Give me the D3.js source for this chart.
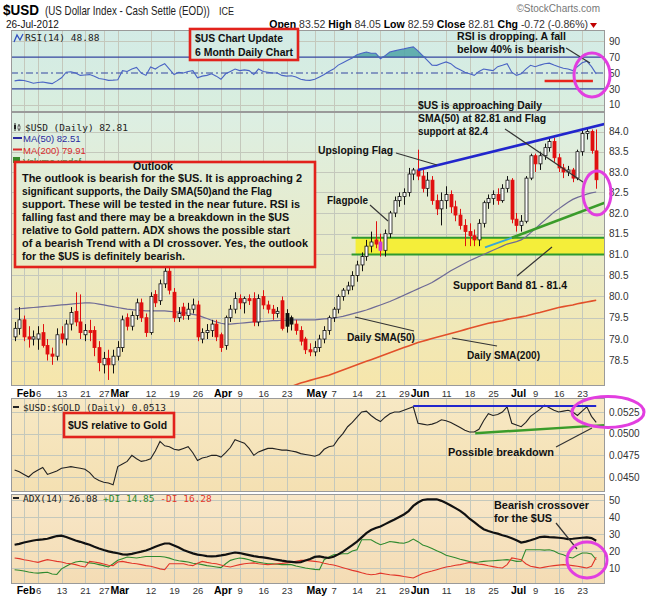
<!DOCTYPE html>
<html>
<head>
<meta charset="utf-8">
<script src="https://cdn.jsdelivr.net/npm/d3@7"></script>
<style>
  body { margin: 0; background: #fff; }
  svg { display: block; font-family: "Liberation Sans", Arial, sans-serif; }
  .mono { font-family: "DejaVu Sans Mono", monospace; font-size: 9.5px; }
  .ax text { font-size: 10px; fill: #333; font-family: "Liberation Sans", Arial, sans-serif; }
  .note { font-weight: bold; font-size: 10.5px; fill: #111; }
</style>
</head>
<body>
<svg id="chart" width="648" height="601"></svg>
<script>
// ---- data (30-Jan-2012 .. 26-Jul-2012) ----
var holidays = ["2012-02-20", "2012-04-06", "2012-05-28", "2012-07-04"];

var opens = [79.05,79.25,79.45,79.05,79.00,79.00,79.15,78.85,78.65,78.60,
  79.12,79.00,79.35,79.65,79.40,79.10,79.20,79.20,78.80,78.40,
  78.55,78.40,78.60,78.80,79.50,79.30,79.55,79.85,79.50,79.15,
  80.05,79.90,80.30,80.60,80.10,79.50,79.75,79.55,79.70,79.80,
  79.00,79.15,79.20,79.35,79.10,78.85,79.50,79.70,79.95,79.85,
  79.95,79.95,79.40,80.00,79.80,79.70,79.60,79.90,79.60,79.50,
  79.35,79.20,79.00,78.75,78.70,78.80,79.00,79.20,79.50,79.70,
  80.00,80.15,80.25,80.50,80.75,80.95,81.20,81.35,81.30,81.10,
  81.50,82.00,82.30,82.40,82.50,82.95,83.05,82.90,82.60,82.80,
  82.30,82.10,82.30,82.45,82.15,81.95,81.70,81.55,81.45,81.35,
  81.75,82.25,82.35,82.45,82.30,82.60,82.80,81.85,81.70,81.80,
  82.85,83.40,83.20,83.40,83.60,83.75,83.35,83.10,83.00,83.05,
  82.85,83.50,83.95,84.00,83.52];
var highs = [79.40,79.75,79.55,79.30,79.20,79.30,79.35,79.00,78.80,79.25,
  79.30,79.45,79.75,80.10,80.05,79.35,79.45,79.30,78.95,78.70,
  78.75,78.75,78.95,79.55,79.60,79.65,79.95,79.95,79.60,80.10,
  80.15,80.40,80.75,80.70,80.20,79.75,79.85,79.85,79.95,79.90,
  79.25,79.35,79.45,79.45,79.15,79.55,79.80,80.10,80.05,80.00,
  80.05,80.10,80.05,80.15,79.90,79.80,79.75,80.00,79.70,79.55,
  79.45,79.30,79.05,78.90,78.95,79.10,79.30,79.55,79.75,80.05,
  80.20,80.35,80.60,80.85,81.05,81.35,81.55,81.80,81.50,81.60,
  82.05,82.40,82.50,82.60,83.10,83.10,83.55,83.05,83.00,82.90,
  82.45,82.50,82.65,82.55,82.30,82.10,81.85,81.75,81.60,81.85,
  82.30,82.45,82.55,82.60,82.70,82.90,82.85,82.00,81.95,82.90,
  83.45,83.45,83.50,83.70,83.85,83.85,83.45,83.20,83.15,83.10,
  83.55,84.05,84.10,84.05,84.05];
var lows = [78.95,79.10,78.95,78.80,78.85,78.75,78.80,78.50,78.40,78.50,
  78.90,78.85,79.20,79.30,79.00,78.95,78.95,78.60,78.25,78.20,
  78.05,78.20,78.50,78.70,79.20,79.20,79.45,79.40,79.05,79.10,
  79.75,79.80,80.20,80.05,79.40,79.40,79.45,79.45,79.60,78.95,
  78.90,79.00,79.05,78.95,78.70,78.75,79.40,79.60,79.70,79.60,
  79.80,79.30,79.30,79.70,79.60,79.45,79.50,79.20,79.15,79.20,
  79.10,78.85,78.65,78.60,78.60,78.70,78.90,79.10,79.40,79.60,
  79.90,80.05,80.15,80.35,80.60,80.85,81.05,81.15,80.95,80.95,
  81.40,81.90,82.15,82.20,82.40,82.80,82.80,82.50,82.40,82.20,
  81.95,81.70,82.10,82.00,81.80,81.60,81.20,81.20,81.20,81.20,
  81.65,82.10,82.20,82.20,82.25,82.50,81.75,81.55,81.55,81.75,
  82.80,83.00,83.05,83.30,83.50,83.25,83.00,82.85,82.90,82.75,
  82.80,83.40,83.80,83.45,82.59];
var closes = [79.25,79.45,79.05,79.00,79.05,79.12,78.85,78.65,78.60,79.10,
  79.00,79.35,79.62,79.40,79.15,79.20,79.15,78.80,78.45,78.55,
  78.40,78.60,78.80,79.45,79.30,79.55,79.85,79.50,79.15,80.00,
  79.85,80.30,80.60,80.15,79.50,79.60,79.55,79.70,79.80,79.05,
  79.15,79.20,79.35,79.05,78.80,79.50,79.70,79.95,79.85,79.95,
  79.90,79.40,79.95,79.80,79.70,79.60,79.65,79.25,79.30,79.35,
  79.20,78.95,78.75,78.70,78.80,79.00,79.20,79.50,79.70,80.00,
  80.15,80.25,80.50,80.75,80.95,81.20,81.30,81.25,81.10,81.50,
  82.00,82.30,82.40,82.50,82.95,83.05,82.90,82.60,82.80,82.30,
  82.10,82.30,82.45,82.15,81.95,81.70,81.55,81.45,81.35,81.75,
  82.25,82.35,82.45,82.30,82.60,82.80,81.85,81.70,81.80,82.85,
  83.40,83.20,83.40,83.60,83.75,83.35,83.10,83.00,83.05,82.85,
  83.50,83.95,84.00,83.53,82.81];

var ma50 = [79.70,79.71,79.72,79.73,79.74,79.75,79.76,79.77,79.78,79.79,
  79.80,79.81,79.82,79.83,79.84,79.85,79.85,79.84,79.82,79.80,
  79.78,79.76,79.74,79.72,79.70,79.69,79.68,79.67,79.66,79.66,
  79.66,79.66,79.66,79.65,79.64,79.63,79.62,79.60,79.58,79.56,
  79.52,79.48,79.44,79.40,79.37,79.35,79.35,79.36,79.37,79.38,
  79.39,79.40,79.40,79.41,79.42,79.43,79.43,79.44,79.44,79.45,
  79.45,79.45,79.45,79.45,79.45,79.46,79.47,79.48,79.49,79.51,
  79.53,79.56,79.59,79.62,79.65,79.68,79.72,79.76,79.80,79.84,
  79.88,79.93,79.98,80.03,80.08,80.13,80.18,80.23,80.28,80.33,
  80.40,80.47,80.54,80.61,80.67,80.73,80.79,80.85,80.90,80.95,
  81.00,81.05,81.10,81.15,81.20,81.25,81.28,81.31,81.35,81.42,
  81.52,81.62,81.72,81.82,81.92,82.02,82.10,82.18,82.26,82.33,
  82.38,82.42,82.46,82.49,82.51];

// MA(200) sits below the panel until late April, so it starts at day 58
var ma200Start = 58;
var ma200 = [77.86,77.90,77.94,77.98,78.01,78.04,78.07,78.10,78.13,78.16,
  78.20,78.24,78.28,78.32,78.36,78.40,78.44,78.48,78.52,78.56,
  78.60,78.64,78.68,78.72,78.76,78.80,78.84,78.88,78.92,78.95,
  78.98,79.01,79.04,79.07,79.10,79.13,79.16,79.19,79.22,79.25,
  79.28,79.31,79.34,79.37,79.39,79.41,79.43,79.46,79.48,79.50,
  79.52,79.54,79.57,79.60,79.62,79.65,79.68,79.71,79.74,79.76,
  79.78,79.80,79.83,79.85,79.87,79.89,79.91];

var rsi = [40,41,40.5,39,37,38,38.6,37.5,36.5,40,
  44,51,51.5,50,47,47.5,48,46,43,42,
  40.7,41,41.5,53,52,55,57,50,47,57.6,
  55,59,61.8,55,48,51,50,52,53,44,
  46,47,49,46,42,49,52,55,53,54,
  53,48,55,52,51,50,50,47,46,46.5,
  45,42,41,40.7,42,45,48,52,55,60,
  63,66,69,73,75,76.6,75,75,68,72,
  76.6,78,79.5,80.5,82,83,78,72,66,60,
  59.7,62,64,61.8,57,54,51,49,47,52,
  55,54,53,58,59.7,61.8,51,47,49,55,
  59.7,58,60,61.8,62.5,60,58,56,55,53,
  58,63,65,58,48.88];

var usdGold = [0.0458,0.0456,0.0453,0.0450,0.0455,0.0458,0.0461,0.0453,0.0455,0.0457,
  0.0460,0.0461,0.0462,0.0461,0.0460,0.0459,0.0455,0.0449,0.0446,0.0444,
  0.0443,0.0441,0.0462,0.0465,0.0468,0.0475,0.0471,0.0468,0.0469,0.0471,
  0.0480,0.0491,0.0486,0.0485,0.0482,0.0481,0.0483,0.0485,0.0478,0.0469,
  0.0472,0.0473,0.0475,0.0475,0.0473,0.0478,0.0484,0.0493,0.0491,0.0489,
  0.0483,0.0475,0.0479,0.0481,0.0483,0.0483,0.0482,0.0481,0.0481,0.0480,
  0.0479,0.0477,0.0476,0.0475,0.0474,0.0476,0.0482,0.0485,0.0486,0.0494,
  0.0500,0.0508,0.0513,0.0519,0.0525,0.0526,0.0521,0.0517,0.0514,0.0519,
  0.0523,0.0525,0.0525,0.0527,0.0529,0.0531,0.0512,0.0511,0.0510,0.0511,
  0.0513,0.0516,0.0515,0.0513,0.0510,0.0507,0.0504,0.0502,0.0502,0.0505,
  0.0515,0.0523,0.0521,0.0522,0.0525,0.0531,0.0512,0.0510,0.0508,0.0513,
  0.0520,0.0524,0.0528,0.0533,0.0530,0.0527,0.0525,0.0526,0.0527,0.0525,
  0.0521,0.0526,0.0531,0.0520,0.0513];

var adx = [23.7,24.2,25,25.6,26.2,26.6,26.8,27.2,28,28.8,
  29,28.2,27.2,26.2,25.4,24.5,23.7,22.5,21.5,20.6,
  19.8,19.2,18.7,18,17.9,18.3,19,19.6,20.3,21.3,
  22.5,23.5,24.4,24.4,23.2,22,20.6,19.6,18.6,17.9,
  17.5,17,16.8,17,17.4,17.9,18.5,19.1,18.8,18.2,
  17.6,17,16.5,16.2,15.8,15.3,14.8,14.3,13.9,13.6,
  13.3,13.5,14.4,15.3,16.5,16.8,16.3,15.9,16.6,18,
  19.6,21.5,23.5,25.5,28,30.5,32.3,33.5,34.4,35.8,
  37.2,38.5,40,41.5,43.5,46.5,48.5,50,50.4,50.4,
  50.4,49.5,48.2,46.8,45.2,43.6,41.5,39,37,34.8,
  32.8,31.8,30.9,30.2,29.3,28.5,27.5,26.3,25,25.5,
  26.3,27.2,28.2,28.5,28.2,28,27.8,27.5,27,27.2,
  27.5,27.8,28,27.6,26.08];
var plusDI = [9,8.7,8.2,7.6,7.2,7,7.3,7.5,6.5,6.2,
  9.5,11,12.5,13.5,14,13.5,13,12.6,12,11.4,
  10.6,12.5,14.5,15.5,16.5,16.2,15.9,16.3,16.8,16.8,
  16.8,16.8,16.5,15.8,14.9,14.3,13.9,13.5,12.8,12.5,
  12,11.4,11,10.6,10.2,12.5,14.5,15.3,15.9,15.5,
  14.8,13.9,13.4,12.9,12.5,12.4,12.2,12,12,12,
  11.2,10.6,10,9.6,9.2,9,14.9,16.5,17.8,18.1,
  18.4,18.4,20,20.7,26.6,26.6,26.6,25,23.7,24.5,
  25.6,25.2,24.8,24.6,25.5,27,25.5,23.5,22.7,21.5,
  20.2,19,17.5,16.8,16,15.1,14.5,13.8,13.3,13.5,
  13.9,14.1,14.3,14.5,14.7,14.9,14.6,13.9,14,20.7,
  20.7,20.7,20.7,20.5,20.7,20,18.5,17.8,16.5,15.9,
  17.5,18.8,18.8,18.3,14.85];
var minusDI = [15.9,15.5,14.9,14.4,13.8,13.3,14.2,14.9,14.4,13.9,
  13.5,12.8,12.5,12,11.2,10.6,13.9,13.5,13,12.3,
  11.6,11.4,13.5,13.9,13.3,12.8,12.5,12,11.4,11,
  10.3,9.5,9,12.5,12.5,12.5,12.5,11.8,11.4,12.8,
  13.9,13.3,12.8,12.5,11.8,11,10.6,11.3,12,12.5,
  12.8,13,12.5,12.2,12,12.2,12.5,12.7,13,13.3,
  14,14.5,14.5,14.2,13.9,13.5,12.8,12.2,11.8,11,
  10.2,9.4,8.6,8,7.2,6.5,6,6.3,7,6.5,
  6,5.8,5.5,5,4.6,4.1,5.5,6.8,7.5,8.2,
  9,9.8,10.6,11,11.6,12,12.6,13.3,12.8,12.3,
  12,11.3,10.8,10.3,10,12,15.9,15.4,14.9,12.5,
  11,10.5,10,10.5,11,11.4,11.7,12,11.8,11.4,
  11,10.5,10,11,16.28];

var dateTicks = [
  ["2012-02-01", "Feb"], ["2012-02-06", "6"], ["2012-02-13", "13"], ["2012-02-21", "21"],
  ["2012-02-27", "27"], ["2012-03-01", "Mar"], ["2012-03-12", "12"], ["2012-03-19", "19"],
  ["2012-03-26", "26"], ["2012-04-02", "Apr"], ["2012-04-09", "9"], ["2012-04-16", "16"],
  ["2012-04-23", "23"], ["2012-05-01", "May"], ["2012-05-07", "7"], ["2012-05-14", "14"],
  ["2012-05-21", "21"], ["2012-05-29", "29"], ["2012-06-01", "Jun"], ["2012-06-11", "11"],
  ["2012-06-18", "18"], ["2012-06-25", "25"], ["2012-07-02", "Jul"], ["2012-07-09", "9"],
  ["2012-07-16", "16"], ["2012-07-23", "23"]
];
var rsiTicks = [10, 30, 50, 70, 90];
var priceTicks = [78.5, 79.0, 79.5, 80.0, 80.5, 81.0, 81.5, 82.0, 82.5, 83.0, 83.5, 84.0];
var goldTicks = [0.0450, 0.0475, 0.0500, 0.0525];
var adxTicks = [10, 20, 30, 40, 50];

// hand-drawn trend lines of the reference, as [day index, value]
var flagTop = [[86, 83.05], [126.3, 84.2]];
var flagSupport = [[106, 81.4], [126.3, 82.27]];
var flagStart = [[100.3, 81.17], [106, 81.4]];
var supportBand = [81.0, 81.4];
var goldTop = [[85, 0.0532], [124, 0.0532]];
var goldSupport = [[98.2, 0.05005], [126.3, 0.0510]];
var rsiFortyMark = [[113, 40], [123.3, 40]];
var magentaDay = "2012-05-21";

// ---- layout ----
var N = closes.length;
var plotL = 11, plotR = 605;
var rsiP = { top: 30, bottom: 112 };
var mainP = { top: 112, bottom: 386 };
var goldP = { top: 398, bottom: 492 };
var adxP = { top: 494, bottom: 584 };

var fmt = d3.timeFormat("%Y-%m-%d");
var dates = d3.timeDay.range(new Date(2012, 0, 30), new Date(2012, 6, 27))
  .filter(function(d) { return d.getDay() > 0 && d.getDay() < 6 && holidays.indexOf(fmt(d)) < 0; })
  .map(fmt);
var dayIndex = function(s) { return dates.indexOf(s); };
var tickIdx = dateTicks.map(function(t) { return dayIndex(t[0]); });

var x = d3.scaleLinear().domain([0, N - 1]).range([14.6, 596.2]);
var yRsi = d3.scaleLinear().domain([0, 100]).range([112.5, 33.5]);
var yMain = d3.scaleLog().domain([78.5, 84]).range([360.5, 131.5]);
var yGold = d3.scaleLinear().domain([0.045, 0.0525]).range([477, 412]);
var yAdx = d3.scaleLinear().domain([10, 50]).range([568, 500]);

var svg = d3.select("#chart");
var defs = svg.append("defs");

function gradient(id, p, c1, c2) {
  var g = defs.append("linearGradient").attr("id", id)
    .attr("gradientUnits", "userSpaceOnUse")
    .attr("x1", 0).attr("x2", 0).attr("y1", p.top).attr("y2", p.bottom);
  g.append("stop").attr("offset", 0).attr("stop-color", c1);
  g.append("stop").attr("offset", 1).attr("stop-color", c2);
}
gradient("gRsi", rsiP, "#d3ebe6", "#d9eede");
gradient("gMain", mainP, "#dcefe4", "#f6e6ab");
gradient("gGold", goldP, "#f7e8c4", "#f4e0b2");
gradient("gAdx", adxP, "#f8e7c8", "#f4dcb4");

function panel(p, fillId, clipId) {
  defs.append("clipPath").attr("id", clipId).append("rect")
    .attr("x", plotL).attr("y", p.top).attr("width", plotR - plotL).attr("height", p.bottom - p.top);
  svg.append("rect")
    .attr("x", plotL).attr("y", p.top).attr("width", plotR - plotL).attr("height", p.bottom - p.top)
    .attr("fill", "url(#" + fillId + ")");
  var g = svg.append("g").attr("clip-path", "url(#" + clipId + ")");
  // vertical grid
  g.selectAll(".vg").data(tickIdx).enter().append("line")
    .attr("x1", function(d) { return Math.round(x(d)) + 0.5; })
    .attr("x2", function(d) { return Math.round(x(d)) + 0.5; })
    .attr("y1", p.top).attr("y2", p.bottom)
    .attr("stroke", "#c4c8bc").attr("stroke-width", 1);
  return g;
}
function hGrid(g, ticks, y) {
  g.selectAll(null).data(ticks).enter().append("line")
    .attr("x1", plotL).attr("x2", plotR)
    .attr("y1", function(d) { return Math.round(y(d)) + 0.5; })
    .attr("y2", function(d) { return Math.round(y(d)) + 0.5; })
    .attr("stroke", "#c4c8bc").attr("stroke-width", 1);
}
function frame(p) {
  svg.append("rect")
    .attr("x", plotL + 0.5).attr("y", p.top + 0.5)
    .attr("width", plotR - plotL - 1).attr("height", p.bottom - p.top - 1)
    .attr("fill", "none").attr("stroke", "#9a9a9a");
}
function rightAxis(y, ticks, f) {
  svg.append("g").attr("class", "ax")
    .attr("transform", "translate(" + (plotR + 1) + ",0)")
    .call(d3.axisRight(y).tickValues(ticks).tickSize(0).tickPadding(3).tickFormat(f))
    .call(function(g) { g.select(".domain").remove(); });
}
function isMonth(i) { return isNaN(+dateTicks[i][1]); }
function dateAxis(yPos) {
  var g = svg.append("g").attr("transform", "translate(0," + yPos + ")")
    .call(d3.axisBottom(x).tickValues(tickIdx).tickSize(0).tickPadding(0)
      .tickFormat(function(d, i) { return dateTicks[i][1]; }));
  g.select(".domain").remove();
  g.selectAll("text")
    .attr("font-family", "Liberation Sans, Arial, sans-serif")
    .attr("font-size", function(d, i) { return isMonth(i) ? "10.5px" : "9.5px"; })
    .attr("font-weight", function(d, i) { return isMonth(i) ? "bold" : "normal"; })
    .attr("fill", function(d, i) { return isMonth(i) ? "#000" : "#333"; })
    .attr("dx", function(d, i) { return isMonth(i) ? 1.5 : 0; })
    .attr("dy", "0");
}
function lineTwo(g, pts, y, color, w) {
  g.append("path").datum(pts)
    .attr("d", d3.line().x(function(d) { return x(d[0]); }).y(function(d) { return y(d[1]); }))
    .attr("fill", "none").attr("stroke", color).attr("stroke-width", w);
}
// squeeze a text horizontally into a given width (the StockCharts fonts are narrow)
function fitted(x0, y0, width, str, size, weight, color) {
  var g = svg.append("g");
  var t = g.append("text").attr("font-size", size).attr("font-weight", weight)
    .attr("fill", color).text(str);
  var w = t.node().getComputedTextLength();
  g.attr("transform", "translate(" + x0 + "," + y0 + ") scale(" + (width / w) + ",1)");
  return t;
}

// ---- header ----
fitted(3, 15, 36, "$USD", "15px", "bold", "#000");
fitted(45, 15, 165, "(US Dollar Index - Cash Settle (EOD))", "12px", "normal", "#222");
fitted(219, 15, 15, "ICE", "10px", "normal", "#222");
svg.append("text").attr("x", 600).attr("y", 12).attr("text-anchor", "end").attr("font-size", "10px")
  .attr("fill", "#777").text("\u00a9StockCharts.com");
svg.append("text").attr("x", 6).attr("y", 27.5).attr("font-size", "10px").attr("fill", "#111").text("26-Jul-2012");
var quote = svg.append("text").attr("x", 588).attr("y", 27.5).attr("text-anchor", "end").attr("font-size", "10.5px");
[["Open", "83.52"], ["High", "84.05"], ["Low", "82.59"], ["Close", "82.81"], ["Chg", "-0.72 (-0.86%)"]]
  .forEach(function(q, i) {
    quote.append("tspan").attr("font-weight", "bold").text((i ? "  " : "") + q[0] + " ");
    quote.append("tspan").attr("fill", "#333").text(q[1]);
  });
svg.append("path").attr("d", "M590,23 L597,23 L593.5,28 Z").attr("fill", "#c00000");

// ---- RSI panel ----
var gR = panel(rsiP, "gRsi", "cRsi");
hGrid(gR, [10, 90], yRsi);
gR.append("path").datum(rsi)
  .attr("d", d3.area().x(function(d, i) { return x(i); })
    .y0(yRsi(70)).y1(function(d) { return yRsi(Math.max(d, 70)); }))
  .attr("fill", "#4ea4a6").attr("opacity", 0.85);
[70, 30].forEach(function(v) {
  gR.append("line").attr("x1", plotL).attr("x2", plotR)
    .attr("y1", yRsi(v)).attr("y2", yRsi(v)).attr("stroke", "#3446a0").attr("stroke-width", 1.2);
});
gR.append("line").attr("x1", plotL).attr("x2", plotR)
  .attr("y1", yRsi(50)).attr("y2", yRsi(50)).attr("stroke", "#3446a0")
  .attr("stroke-dasharray", "7,3,2,3");
gR.append("path").datum(rsi)
  .attr("d", d3.line().x(function(d, i) { return x(i); }).y(function(d) { return yRsi(d); }))
  .attr("fill", "none").attr("stroke", "#4a64c4").attr("stroke-width", 1.1);
lineTwo(gR, rsiFortyMark, yRsi, "#e8241c", 2.5);
frame(rsiP);
rightAxis(yRsi, rsiTicks, d3.format("d"));
svg.append("path").attr("d", "M14,42 L17,35 L20,40 L23,34").attr("fill", "none").attr("stroke", "#3050c0").attr("stroke-width", 1.3);
svg.append("text").attr("class", "mono").attr("x", 25).attr("y", 41).attr("fill", "#222").text("RSI(14) 48.88");

// ---- price panel ----
var gM = panel(mainP, "gMain", "cMain");
hGrid(gM, priceTicks, yMain);
var bandX0 = x(72.7);
gM.append("rect").attr("x", bandX0).attr("width", plotR - bandX0)
  .attr("y", yMain(supportBand[1])).attr("height", yMain(supportBand[0]) - yMain(supportBand[1]))
  .attr("fill", "#f4ee3a");
supportBand.forEach(function(v) {
  gM.append("line").attr("x1", bandX0 - 4).attr("x2", plotR)
    .attr("y1", yMain(v)).attr("y2", yMain(v)).attr("stroke", "#2f9a2f").attr("stroke-width", 2);
});
gM.append("path").datum(ma50)
  .attr("d", d3.line().x(function(d, i) { return x(i); }).y(function(d) { return yMain(d); }))
  .attr("fill", "none").attr("stroke", "#6e6a96").attr("stroke-width", 1.2);
gM.append("path").datum(ma200)
  .attr("d", d3.line().x(function(d, i) { return x(i + ma200Start); }).y(function(d) { return yMain(d); }))
  .attr("fill", "none").attr("stroke", "#e2502a").attr("stroke-width", 1.6);

var magIdx = dayIndex(magentaDay);
var candles = gM.selectAll(".candle").data(closes).enter().append("g");
function candleColor(i) {
  if (i === magIdx) return "#d23ad6";
  if (closes[i] >= opens[i]) return "#111";
  return (i > 0 && closes[i] >= closes[i - 1]) ? "#111" : "#e01010";
}
candles.append("line")
  .attr("x1", function(d, i) { return Math.round(x(i)) + 0.5; })
  .attr("x2", function(d, i) { return Math.round(x(i)) + 0.5; })
  .attr("y1", function(d, i) { return yMain(highs[i]); })
  .attr("y2", function(d, i) { return yMain(lows[i]); })
  .attr("stroke", function(d, i) { return i === magIdx ? "#e01010" : candleColor(i); });
candles.append("rect")
  .attr("x", function(d, i) { return Math.round(x(i)) - 1; })
  .attr("width", 3)
  .attr("y", function(d, i) { return yMain(Math.max(opens[i], closes[i])); })
  .attr("height", function(d, i) { return Math.max(1, Math.abs(yMain(opens[i]) - yMain(closes[i]))); })
  .attr("fill", function(d, i) { return (closes[i] >= opens[i] && i !== magIdx) ? "#fff" : candleColor(i); })
  .attr("stroke", function(d, i) { return candleColor(i); })
  .attr("stroke-width", 0.8);

lineTwo(gM, flagTop, yMain, "#2226cc", 2.6);
lineTwo(gM, flagSupport, yMain, "#3a9c2a", 2.6);
lineTwo(gM, flagStart, yMain, "#3aa6d8", 2);
frame(mainP);
rightAxis(yMain, priceTicks, d3.format(".1f"));

// legend
svg.append("g").call(function(g) {
  g.append("line").attr("x1", 15).attr("x2", 15).attr("y1", 123).attr("y2", 131).attr("stroke", "#222");
  g.append("rect").attr("x", 14).attr("y", 125).attr("width", 2).attr("height", 4).attr("fill", "#222");
  g.append("line").attr("x1", 19).attr("x2", 19).attr("y1", 124).attr("y2", 131).attr("stroke", "#222");
  g.append("rect").attr("x", 18).attr("y", 126).attr("width", 2).attr("height", 3).attr("fill", "#fff").attr("stroke", "#222").attr("stroke-width", 0.6);
});
svg.append("text").attr("class", "mono").attr("x", 25).attr("y", 131).attr("fill", "#222").text("$USD (Daily) 82.81");
svg.append("line").attr("x1", 13).attr("x2", 22).attr("y1", 138).attr("y2", 138).attr("stroke", "#2a2aa0").attr("stroke-width", 2);
svg.append("text").attr("x", 23).attr("y", 142).attr("font-size", "9.5px").attr("fill", "#2a2aa0").text("MA(50) 82.51");
svg.append("line").attr("x1", 13).attr("x2", 22).attr("y1", 149.5).attr("y2", 149.5).attr("stroke", "#d82a2a").attr("stroke-width", 2);
svg.append("text").attr("x", 23).attr("y", 153.5).attr("font-size", "9.5px").attr("fill", "#d82a2a").text("MA(200) 79.91");
svg.append("rect").attr("x", 13).attr("y", 157).attr("width", 7).attr("height", 6).attr("fill", "#3a8a2a");
svg.append("text").attr("x", 23).attr("y", 165).attr("font-size", "9.5px").attr("fill", "#2a7a2a").text("Volume undef");

dateAxis(397);

// ---- $USD:$GOLD panel ----
var gG = panel(goldP, "gGold", "cGold");
hGrid(gG, goldTicks, yGold);
gG.append("path").datum(usdGold)
  .attr("d", d3.line().x(function(d, i) { return x(i); }).y(function(d) { return yGold(d); }))
  .attr("fill", "none").attr("stroke", "#222").attr("stroke-width", 1.1);
lineTwo(gG, goldTop, yGold, "#2226cc", 2);
lineTwo(gG, goldSupport, yGold, "#3a9c2a", 2.4);
frame(goldP);
rightAxis(yGold, goldTicks, d3.format(".4f"));
svg.append("line").attr("x1", 13).attr("x2", 19).attr("y1", 407).attr("y2", 407).attr("stroke", "#222").attr("stroke-width", 2);
svg.append("text").attr("class", "mono").attr("x", 23).attr("y", 411).attr("fill", "#222").text("$USD:$GOLD (Daily) 0.0513");

// ---- ADX panel ----
var gA = panel(adxP, "gAdx", "cAdx");
hGrid(gA, adxTicks, yAdx);
[[plusDI, "#2f8a2f", 1.1], [minusDI, "#e2362a", 1.1], [adx, "#111", 2.2]].forEach(function(s) {
  gA.append("path").datum(s[0])
    .attr("d", d3.line().x(function(d, i) { return x(i); }).y(function(d) { return yAdx(d); }))
    .attr("fill", "none").attr("stroke", s[1]).attr("stroke-width", s[2]);
});
frame(adxP);
rightAxis(yAdx, adxTicks, d3.format("d"));
svg.append("line").attr("x1", 13).attr("x2", 19).attr("y1", 498).attr("y2", 498).attr("stroke", "#222").attr("stroke-width", 2);
var adxLab = svg.append("text").attr("class", "mono").attr("x", 23).attr("y", 502);
adxLab.append("tspan").attr("fill", "#222").text("ADX(14) 26.08 ");
adxLab.append("tspan").attr("fill", "#2f8a2f").text("+DI 14.85 ");
adxLab.append("tspan").attr("fill", "#e2362a").text("-DI 16.28");

dateAxis(594);

// ---- annotations ----
function box(x0, y0, w, h, fill) {
  svg.append("rect").attr("x", x0).attr("y", y0).attr("width", w).attr("height", h)
    .attr("fill", fill).attr("stroke", "#e2221c").attr("stroke-width", 2.6);
}
box(190, 29, 108, 31, "url(#gRsi)");
box(15, 162, 300, 105, "url(#gMain)");
box(64, 413, 110, 24, "url(#gGold)");

var notes = [
  ["$US Chart Update", 195, 42, 88],
  ["6 Month Daily Chart", 195, 56, 98],
  ["RSI is dropping. A fall", 457, 39.5, 109],
  ["below 40% is bearish", 457, 52.5, 108],
  ["$US is approaching Daily", 418, 109, 124],
  ["SMA(50) at 82.81 and Flag", 418, 122, 128],
  ["support at 82.4", 418, 135, 70],
  ["Upsloping Flag", 318, 154, 75],
  ["Flagpole", 327, 204, 41],
  ["Support Band 81 - 81.4", 453, 289, 114],
  ["Daily SMA(50)", 347, 341, 68],
  ["Daily SMA(200)", 467, 359, 73],
  ["$US relative to Gold", 68, 429, 99],
  ["Possible breakdown", 448, 456, 106],
  ["Bearish crossover", 494, 509, 95],
  ["for the $US", 494, 522, 58],
  ["Outlook", 133, 170, 40],
  ["The outlook is bearish for the $US. It is approaching 2", 22, 182, 280],
  ["significant supports, the Daily SMA(50)and the Flag", 22, 195, 250],
  ["support. These will be tested in the near future. RSI is", 22, 208, 278],
  ["falling fast and there may be a breakdown in the $US", 22, 221, 267],
  ["relative to Gold pattern. ADX shows the possible start", 22, 234, 268],
  ["of a bearish Trend with a DI crossover. Yes, the outlook", 22, 247, 286],
  ["for the $US is definitely bearish.", 22, 260, 163]
];
svg.selectAll(".note").data(notes).enter().append("text")
  .attr("class", "note")
  .attr("x", function(d) { return d[1]; }).attr("y", function(d) { return d[2]; })
  .attr("textLength", function(d) { return d[3]; }).attr("lengthAdjust", "spacingAndGlyphs")
  .text(function(d) { return d[0]; });

var arrows = [
  [566, 48, 590, 63], [505, 129, 583, 182], [396, 153, 437, 165], [370, 205, 388, 221],
  [517, 276, 552, 247], [355, 317, 414, 331], [452, 338, 497, 346], [556, 447, 592, 428],
  [556, 523, 577, 549]
];
svg.selectAll(".arrow").data(arrows).enter().append("line")
  .attr("x1", function(d) { return d[0]; }).attr("y1", function(d) { return d[1]; })
  .attr("x2", function(d) { return d[2]; }).attr("y2", function(d) { return d[3]; })
  .attr("stroke", "#333").attr("stroke-width", 1.2);

var rings = [[592, 75, 18, 22], [597, 193, 14, 22], [608, 412, 36, 15.5], [587, 560, 20, 18]];
svg.selectAll(".ring").data(rings).enter().append("ellipse")
  .attr("cx", function(d) { return d[0]; }).attr("cy", function(d) { return d[1]; })
  .attr("rx", function(d) { return d[2]; }).attr("ry", function(d) { return d[3]; })
  .attr("fill", "none").attr("stroke", "#e23ee0").attr("stroke-width", 3);
</script>
</body>
</html>
